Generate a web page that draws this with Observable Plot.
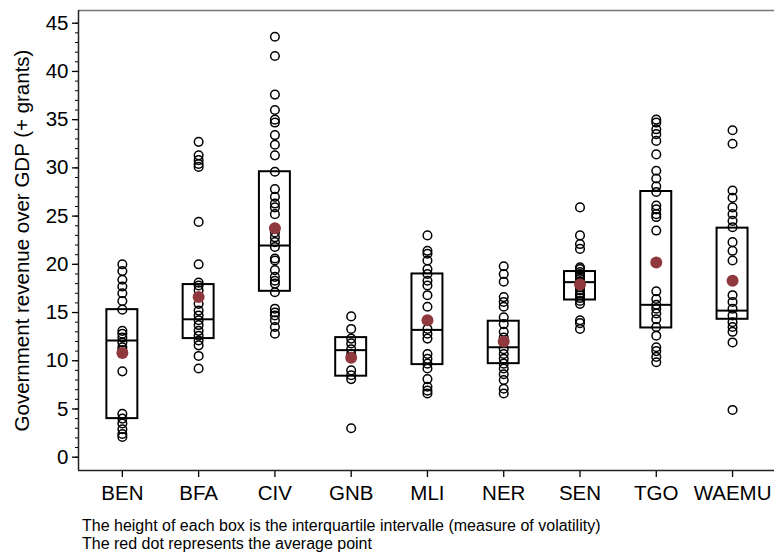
<!DOCTYPE html>
<html><head><meta charset="utf-8">
<script src="https://cdn.jsdelivr.net/npm/d3@7"></script>
<script src="https://cdn.jsdelivr.net/npm/@observablehq/plot@0.6"></script>
<style>
html,body{margin:0;padding:0;background:#fff;overflow:hidden;}
#caption{font-family:"Liberation Sans",Arial,sans-serif;font-size:16px;line-height:18px;color:#000;padding-left:82px;margin-top:5px;}
</style></head><body>
<div id="chart"></div>
<div id="caption"><div>The height of each box is the interquartile intervalle (measure of volatility)</div><div>The red dot represents the average point</div></div>
<script>
const countries = ["BEN","BFA","CIV","GNB","MLI","NER","SEN","TGO","WAEMU"];
const ben = [20.0,19.3,18.4,17.7,17.0,16.2,15.3,13.1,12.8,12.4,11.9,11.4,11.1,8.9,4.5,4.0,3.5,2.9,2.4,2.1];
const bfa = [32.7,31.3,30.8,30.4,30.1,24.4,20.0,18.1,17.8,17.3,16.6,15.9,15.2,14.7,14.2,13.7,13.1,12.6,12.1,11.6,10.5,9.2];
const civ = [43.6,41.6,37.6,36.0,35.0,34.7,33.4,32.4,31.3,29.6,27.8,27.0,26.3,25.9,25.2,23.3,22.8,22.3,21.8,20.6,20.4,19.4,18.7,18.3,18.0,17.1,15.4,15.0,14.7,14.2,13.5,12.8];
const gnb = [14.6,13.3,12.3,11.8,11.2,10.7,9.0,8.5,8.1,3.0];
const mli = [23.0,21.4,21.1,20.4,19.5,19.0,18.3,17.8,16.8,15.6,13.3,12.8,12.3,10.7,10.2,9.7,9.2,8.1,7.3,6.9,6.6];
const ner = [19.8,19.0,18.2,16.6,16.1,15.6,14.5,13.8,13.0,12.4,11.2,10.7,10.2,9.7,9.2,8.6,8.0,7.1,6.6];
const sen = [25.9,23.0,22.1,21.6,19.7,19.5,19.2,19.0,18.7,18.5,18.2,18.0,17.6,17.3,17.0,16.8,16.5,16.2,15.9,14.2,13.9,13.3];
const tgo = [35.0,34.7,34.0,33.5,32.8,31.4,29.7,28.9,28.1,27.5,26.1,25.7,25.2,24.9,23.5,17.2,16.4,15.8,15.4,14.9,14.3,13.5,12.6,11.4,11.0,10.4,9.85];
const waemu = [33.9,32.5,27.65,26.9,25.9,25.2,24.5,23.85,22.3,21.4,20.4,16.8,16.1,15.4,14.7,14.0,13.5,13.0,11.9,4.9];
const q1 = [4.0,12.3,17.2,8.4,9.6,9.7,16.3,13.4,14.3];
const median = [12.1,14.3,21.95,11.1,13.2,11.4,18.15,15.8,15.2];
const q3 = [15.3,17.9,29.6,12.4,19.0,14.1,19.25,27.55,23.75];
const mean = [10.8,16.6,23.75,10.3,14.2,12.0,17.9,20.2,18.3];
const yTicks = [0,5,10,15,20,25,30,35,40,45];
const yLabel = "Government revenue over GDP (+ grants)";

const series = [ben,bfa,civ,gnb,mli,ner,sen,tgo,waemu];
const points = series.flatMap((s,i)=>s.map(v=>({i, v})));
const boxes = countries.map((c,i)=>({i, q1:q1[i], median:median[i], q3:q3[i], mean:mean[i]}));
const xDom = [-0.575, 8.55];
const yDom = [-1.38, 46.32];
const hw = 0.203;

const chart = Plot.plot({
  width: 774, height: 512,
  marginLeft: 78, marginRight: 0, marginTop: 10, marginBottom: 42,
  style: {fontFamily: "Liberation Sans, Arial, sans-serif", background: "white", color: "black"},
  x: {type: "linear", domain: xDom},
  y: {domain: yDom},
  marks: [
    Plot.axisY(yTicks, {tickSize: 6, tickPadding: 4, fontSize: 20.5, label: null, strokeWidth: 1.3}),
    Plot.axisY(d3.range(0, 46), {tickSize: 3, tickFormat: () => "", label: null}),
    Plot.axisX(d3.range(countries.length), {tickSize: 7, tickPadding: 8, fontSize: 20.5, label: null, strokeWidth: 1.3, tickFormat: i => countries[i]}),
    Plot.ruleY([yDom[1]], {stroke: "#777", strokeWidth: 1.5}),
    Plot.ruleY([yDom[0]], {stroke: "#222", strokeWidth: 1.5}),
    Plot.ruleX([xDom[0]], {stroke: "#222", strokeWidth: 1.5}),
    Plot.dot(points, {x: "i", y: "v", r: 4.3, stroke: "black", strokeWidth: 1.5, fill: "none"}),
    Plot.rect(boxes, {x1: d => d.i - hw, x2: d => d.i + hw, y1: "q1", y2: "q3", stroke: "black", strokeWidth: 2, fill: "none"}),
    Plot.ruleY(boxes, {x1: d => d.i - hw, x2: d => d.i + hw, y: "median", stroke: "black", strokeWidth: 2}),
    Plot.dot(boxes, {x: "i", y: "mean", r: 6, fill: "#8f383d", stroke: "none"}),
    Plot.text([yLabel], {frameAnchor: "left", rotate: -90, dx: -56, fontSize: 20.5, textAnchor: "middle", lineAnchor: "middle", fill: "black"})
  ]
});
document.getElementById("chart").appendChild(chart);
</script>
</body></html>
